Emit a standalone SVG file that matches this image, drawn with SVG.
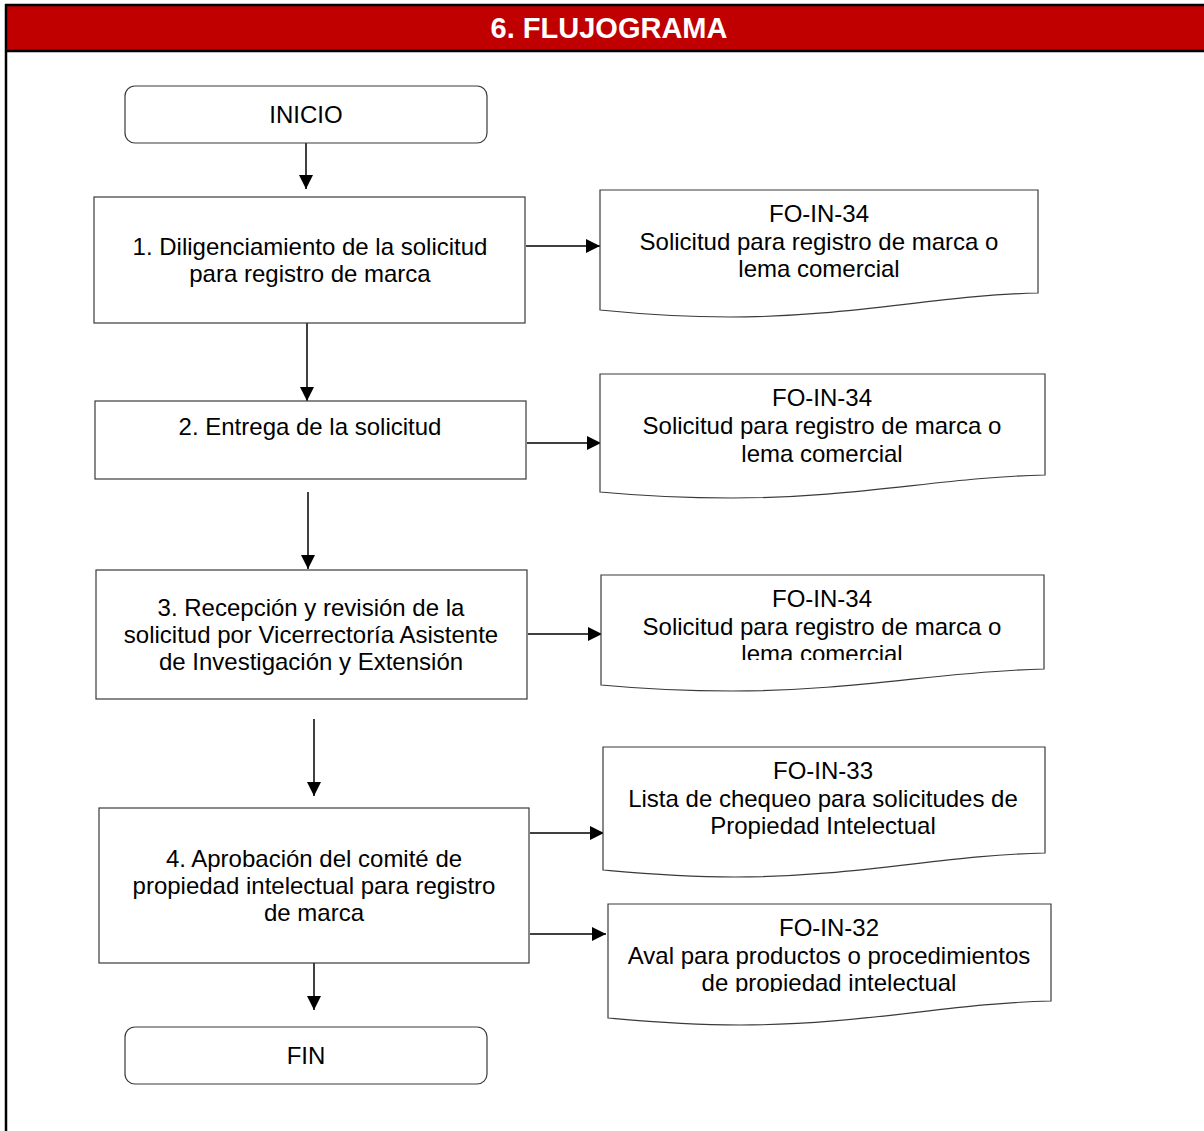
<svg xmlns="http://www.w3.org/2000/svg" width="1204" height="1131" viewBox="0 0 1204 1131">
<style>
.box{fill:#fff;stroke:#3a3a3a;stroke-width:1.2}
.t{font-family:"Liberation Sans",Arial,sans-serif;font-size:24px;fill:#000;text-anchor:middle}
.title{font-family:"Liberation Sans",Arial,sans-serif;font-size:29px;font-weight:bold;fill:#fff;text-anchor:middle}
.c{stroke:#000;stroke-width:1.5;fill:none;marker-end:url(#ah)}
</style>
<defs>
<marker id="ah" markerUnits="userSpaceOnUse" markerWidth="14" markerHeight="14" refX="14" refY="7" orient="auto">
<path d="M0,0 L14,7 L0,14 Z" fill="#000"/>
</marker>
<clipPath id="clip3"><rect x="600" y="575" width="445" height="85"/></clipPath>
<clipPath id="clip5"><rect x="608" y="904" width="444" height="88"/></clipPath>
</defs>
<rect x="0" y="0" width="1204" height="1131" fill="#fff"/>
<g id="header">
<rect x="6" y="5" width="1200" height="46" fill="#c00000"/>
<line x1="5" y1="5" x2="1204" y2="5" stroke="#000" stroke-width="2.5"/>
<line x1="5" y1="51" x2="1204" y2="51" stroke="#000" stroke-width="2.5"/>
<line x1="6" y1="4" x2="6" y2="1131" stroke="#000" stroke-width="2.5"/>
<text class="title" x="609" y="38">6. FLUJOGRAMA</text>
</g>
<g id="connectors">
<line class="c" x1="306" y1="143" x2="306" y2="189"/>
<line class="c" x1="526" y1="246" x2="600" y2="246"/>
<line class="c" x1="307" y1="323" x2="307" y2="401"/>
<line class="c" x1="527" y1="443" x2="601" y2="443"/>
<line class="c" x1="308" y1="492" x2="308" y2="569"/>
<line class="c" x1="528" y1="634" x2="602" y2="634"/>
<line class="c" x1="314" y1="719" x2="314" y2="796"/>
<line class="c" x1="530" y1="833" x2="604" y2="833"/>
<line class="c" x1="530" y1="934" x2="606" y2="934"/>
<line class="c" x1="314" y1="963" x2="314" y2="1010"/>
</g>
<g id="inicio">
<rect class="box" x="125" y="86" width="362" height="57" rx="10"/>
<text class="t" x="306" y="123">INICIO</text>
</g>
<g id="paso1">
<rect class="box" x="94" y="197" width="431" height="126"/>
<text class="t" x="310" y="255">1. Diligenciamiento de la solicitud</text>
<text class="t" x="310" y="282">para registro de marca</text>
</g>
<g id="doc1">
<path class="box" d="M600,190 L1038,190 L1038,293 C940,295 850,317 730,317 C670,317 630,313 600,310 Z"/>
<text class="t" x="819" y="222">FO-IN-34</text>
<text class="t" x="819" y="250">Solicitud para registro de marca o</text>
<text class="t" x="819" y="277">lema comercial</text>
</g>
<g id="paso2">
<rect class="box" x="95" y="401" width="431" height="78"/>
<text class="t" x="310" y="435">2. Entrega de la solicitud</text>
</g>
<g id="doc2">
<path class="box" d="M600,374 L1045,374 L1045,475 C945,477 855,498 732,498 C672,498 632,495 600,492 Z"/>
<text class="t" x="822" y="406">FO-IN-34</text>
<text class="t" x="822" y="434">Solicitud para registro de marca o</text>
<text class="t" x="822" y="462">lema comercial</text>
</g>
<g id="paso3">
<rect class="box" x="96" y="570" width="431" height="129"/>
<text class="t" x="311" y="616">3. Recepción y revisión de la</text>
<text class="t" x="311" y="643">solicitud por Vicerrectoría Asistente</text>
<text class="t" x="311" y="670">de Investigación y Extensión</text>
</g>
<g id="doc3">
<path class="box" d="M601,575 L1044,575 L1044,669 C944,671 855,691 732,691 C672,691 633,688 601,685 Z"/>
<g clip-path="url(#clip3)">
<text class="t" x="822" y="607">FO-IN-34</text>
<text class="t" x="822" y="635">Solicitud para registro de marca o</text>
<text class="t" x="822" y="662">lema comercial</text>
</g>
</g>
<g id="paso4">
<rect class="box" x="99" y="808" width="430" height="155"/>
<text class="t" x="314" y="867">4. Aprobación del comité de</text>
<text class="t" x="314" y="894">propiedad intelectual para registro</text>
<text class="t" x="314" y="921">de marca</text>
</g>
<g id="doc4">
<path class="box" d="M603,747 L1045,747 L1045,853 C945,855 856,877 735,877 C675,877 636,873 603,870 Z"/>
<text class="t" x="823" y="779">FO-IN-33</text>
<text class="t" x="823" y="807">Lista de chequeo para solicitudes de</text>
<text class="t" x="823" y="834">Propiedad Intelectual</text>
</g>
<g id="doc5">
<path class="box" d="M608,904 L1051,904 L1051,1001 C951,1003 862,1025 740,1025 C680,1025 641,1021 608,1018 Z"/>
<g clip-path="url(#clip5)">
<text class="t" x="829" y="936">FO-IN-32</text>
<text class="t" x="829" y="964">Aval para productos o procedimientos</text>
<text class="t" x="829" y="991">de propiedad intelectual</text>
</g>
</g>
<g id="fin">
<rect class="box" x="125" y="1027" width="362" height="57" rx="10"/>
<text class="t" x="306" y="1064">FIN</text>
</g>
</svg>
